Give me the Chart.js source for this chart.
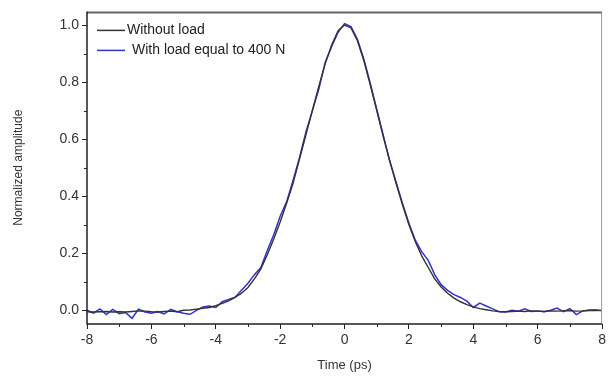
<!DOCTYPE html>
<html>
<head>
<meta charset="utf-8">
<script src="https://cdn.jsdelivr.net/npm/chart.js@4/dist/chart.umd.min.js"></script>
<style>
  html, body { margin: 0; padding: 0; background: #fff; }
  #wrap { width: 609px; height: 379px; }
</style>
</head>
<body>
<div id="wrap"><canvas id="pulse"></canvas></div>
<script>
// time axis (ps), sampled every 0.2 ps
const times = [
  -8.0, -7.8, -7.6, -7.4, -7.2, -7.0, -6.8, -6.6, -6.4, -6.2,
  -6.0, -5.8, -5.6, -5.4, -5.2, -5.0, -4.8, -4.6, -4.4, -4.2,
  -4.0, -3.8, -3.6, -3.4, -3.2, -3.0, -2.8, -2.6, -2.4, -2.2,
  -2.0, -1.8, -1.6, -1.4, -1.2, -1.0, -0.8, -0.6, -0.4, -0.2,
   0.0,  0.2,  0.4,  0.6,  0.8,  1.0,  1.2,  1.4,  1.6,  1.8,
   2.0,  2.2,  2.4,  2.6,  2.8,  3.0,  3.2,  3.4,  3.6,  3.8,
   4.0,  4.2,  4.4,  4.6,  4.8,  5.0,  5.2,  5.4,  5.6,  5.8,
   6.0,  6.2,  6.4,  6.6,  6.8,  7.0,  7.2,  7.4,  7.6,  7.8,
   8.0
];

const withoutLoad = [
  -0.005, -0.006, -0.005, -0.004, -0.006, -0.005, -0.006, -0.004, -0.002, -0.003,
  -0.005, -0.006, -0.004, -0.003, -0.005,  0.000,  0.001,  0.004,  0.007,  0.010,
   0.016,  0.024,  0.033,  0.045,  0.060,  0.080,  0.110,  0.145,  0.195,  0.250,
   0.310,  0.375,  0.445,  0.530,  0.615,  0.700,  0.785,  0.865,  0.930,  0.980,
   1.000,  0.990,  0.945,  0.875,  0.790,  0.700,  0.610,  0.525,  0.445,  0.370,
   0.300,  0.240,  0.190,  0.150,  0.110,  0.082,  0.060,  0.043,  0.030,  0.020,
   0.012,  0.006,  0.002, -0.002, -0.004, -0.005, -0.004, -0.003, -0.004, -0.002,
  -0.003, -0.004, -0.002, -0.003, -0.002, -0.001, -0.003, -0.002,  0.000, -0.001,
   0.000
];

const withLoad = [
   0.000, -0.010,  0.005, -0.015,  0.003, -0.012, -0.008, -0.028,  0.004, -0.006,
  -0.010, -0.004, -0.013,  0.003, -0.005, -0.010, -0.014,  0.000,  0.012,  0.015,
   0.010,  0.030,  0.038,  0.046,  0.070,  0.095,  0.125,  0.150,  0.210,  0.265,
   0.330,  0.380,  0.455,  0.535,  0.625,  0.700,  0.775,  0.870,  0.925,  0.975,
   1.005,  0.995,  0.950,  0.880,  0.795,  0.705,  0.615,  0.525,  0.450,  0.375,
   0.305,  0.245,  0.205,  0.175,  0.125,  0.090,  0.070,  0.055,  0.045,  0.032,
   0.010,  0.025,  0.015,  0.005, -0.005, -0.006,  0.000, -0.003,  0.005, -0.004,
  -0.002, -0.005,  0.000,  0.008, -0.005,  0.006, -0.015, -0.002,  0.000,  0.002,
  -0.002
];

const seriesNames = ['Without load', 'With load equal to 400 N'];
const seriesColors = ['#333333', '#3333cc'];

const xTicks = [-8, -6, -4, -2, 0, 2, 4, 6, 8];
const xMinor = [-7, -5, -3, -1, 1, 3, 5, 7];
const yTicks = [0.0, 0.2, 0.4, 0.6, 0.8, 1.0];
const yMinor = [0.1, 0.3, 0.5, 0.7, 0.9];

const toPoints = (ys) => times.map((t, i) => ({ x: t, y: ys[i] }));

// frame, minor ticks and in-plot legend
const framePlugin = {
  id: 'frame',
  afterDraw(chart) {
    const c = chart.ctx;
    const a = chart.chartArea;
    const xs = chart.scales.x, ys = chart.scales.y;
    c.save();
    // top + right border
    c.strokeStyle = '#666';
    c.lineWidth = 2;
    c.beginPath();
    c.moveTo(a.left, a.top + 1);
    c.lineTo(a.right, a.top + 1);
    c.stroke();
    c.lineWidth = 1;
    c.strokeStyle = '#999';
    c.beginPath();
    c.moveTo(a.right - 0.5, a.top);
    c.lineTo(a.right - 0.5, a.bottom);
    c.stroke();
    // left + bottom axis
    c.strokeStyle = '#222';
    c.lineWidth = 1.5;
    c.beginPath();
    c.moveTo(a.left, a.top);
    c.lineTo(a.left, a.bottom);
    c.lineTo(a.right, a.bottom);
    c.stroke();
    // minor ticks
    c.lineWidth = 1;
    c.beginPath();
    xMinor.forEach(v => {
      const px = Math.round(xs.getPixelForValue(v)) + 0.5;
      c.moveTo(px, a.bottom);
      c.lineTo(px, a.bottom + 3);
    });
    yMinor.forEach(v => {
      const py = Math.round(ys.getPixelForValue(v)) + 0.5;
      c.moveTo(a.left, py);
      c.lineTo(a.left - 3, py);
    });
    c.stroke();
    // legend
    c.font = '14px "Liberation Sans", Arial, sans-serif';
    c.textBaseline = 'middle';
    const rows = [
      { y: a.top + 19, x0: a.left + 10, x1: a.left + 38, tx: a.left + 40 },
      { y: a.top + 39, x0: a.left + 10, x1: a.left + 38, tx: a.left + 45 }
    ];
    rows.forEach((r, i) => {
      c.strokeStyle = seriesColors[i];
      c.lineWidth = 1.5;
      c.beginPath();
      c.moveTo(r.x0, r.y);
      c.lineTo(r.x1, r.y);
      c.stroke();
      c.fillStyle = '#222';
      c.fillText(seriesNames[i], r.tx, r.y);
    });
    c.restore();
  }
};

new Chart(document.getElementById('pulse'), {
  type: 'line',
  data: {
    datasets: [
      {
        label: seriesNames[0],
        data: toPoints(withoutLoad),
        borderColor: seriesColors[0],
        borderWidth: 1.4,
        pointRadius: 0,
        tension: 0
      },
      {
        label: seriesNames[1],
        data: toPoints(withLoad),
        borderColor: seriesColors[1],
        borderWidth: 1.5,
        pointRadius: 0,
        tension: 0
      }
    ]
  },
  options: {
    responsive: true,
    maintainAspectRatio: false,
    animation: false,
    layout: { padding: { top: 3, right: 1, left: 0, bottom: 0 } },
    plugins: {
      legend: { display: false },
      tooltip: { enabled: false }
    },
    scales: {
      x: {
        type: 'linear',
        min: -8,
        max: 8,
        afterBuildTicks: (s) => { s.ticks = xTicks.map(v => ({ value: v })); },
        afterFit: (s) => { s.height = 55; },
        grid: { drawOnChartArea: false, drawTicks: true, tickLength: 5, tickColor: '#222', tickWidth: 1 },
        border: { display: false },
        ticks: {
          color: '#333',
          padding: 3,
          maxRotation: 0,
          font: { family: '"Liberation Sans", Arial, sans-serif', size: 14 }
        },
        title: {
          display: true,
          text: 'Time (ps)',
          color: '#333',
          padding: { top: 0, bottom: 6 },
          font: { family: '"Liberation Sans", Arial, sans-serif', size: 13 }
        }
      },
      y: {
        type: 'linear',
        min: -0.048,
        max: 1.048,
        afterBuildTicks: (s) => { s.ticks = yTicks.map(v => ({ value: v })); },
        afterFit: (s) => { s.width = 87; },
        grid: { drawOnChartArea: false, drawTicks: true, tickLength: 5, tickColor: '#222', tickWidth: 1 },
        border: { display: false },
        ticks: {
          color: '#333',
          padding: 3,
          font: { family: '"Liberation Sans", Arial, sans-serif', size: 14 },
          callback: (v) => Number(v).toFixed(1)
        },
        title: {
          display: true,
          text: 'Normalized amplitude',
          color: '#333',
          padding: { top: 11, bottom: 0 },
          font: { family: '"Liberation Sans", Arial, sans-serif', size: 12 }
        }
      }
    }
  },
  plugins: [framePlugin]
});
</script>
</body>
</html>
